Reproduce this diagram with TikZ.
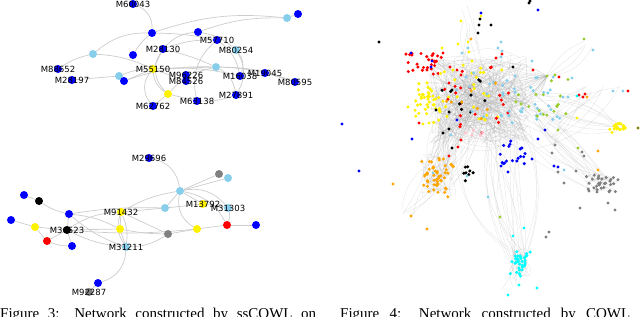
\documentclass[tikz,border=0pt]{standalone}
\usepackage{fontspec}
\setmainfont{Liberation Serif}
\newfontfamily\lblfont{DejaVu Sans}
\usetikzlibrary{backgrounds}
\definecolor{skyb}{HTML}{87CEEB}
\definecolor{ygreen}{HTML}{9ACD32}
\definecolor{orng}{HTML}{FFA500}
\definecolor{gry}{HTML}{808080}
\definecolor{olv}{HTML}{808000}
\definecolor{pnk}{HTML}{FFC0CB}
\definecolor{cyn}{HTML}{00FFFF}
\newcommand\rdots[6]{%
  \foreach \k in {1,...,#6}{%
    \pgfmathsetmacro\qpx{#2+#4*(rand+rand)/2}%
    \pgfmathsetmacro\qpy{#3+#5*(rand+rand)/2}%
    \fill[#1] (\qpx,\qpy) circle[radius=1.7];}}
\newcommand\udots[6]{%
  \foreach \k in {1,...,#6}{%
    \pgfmathsetmacro\qpx{#2+#4*rand}%
    \pgfmathsetmacro\qpy{#3+#5*rand}%
    \fill[#1] (\qpx,\qpy) circle[radius=1.7];}}
\newcommand\redges[9]{%
  \foreach \k in {1,...,#9}{%
    \pgfmathsetmacro\qax{#1+#3*rand}\pgfmathsetmacro\qay{#2+#4*rand}%
    \pgfmathsetmacro\qbx{#5+#7*rand}\pgfmathsetmacro\qby{#6+#8*rand}%
    \pgfmathsetmacro\qbb{35*rand}%
    \draw[redge] (\qax,\qay) to[bend left=\qbb] (\qbx,\qby);}}
\newcommand\pts[2]{\foreach \a/\b in {#2}{\fill[#1] (\a,\b) circle[radius=1.7];}}
\begin{document}
\begin{tikzpicture}[x=1pt,y=-1pt,
  gn/.style={circle,inner sep=0pt,minimum size=8pt},
  lbl/.style={font=\lblfont\fontsize{8.5}{9}\selectfont,inner sep=0pt},
  ge/.style={draw=black!20,line width=0.7pt},
  redge/.style={draw=black!35,line width=0.2pt,opacity=0.4},
  captext/.style={anchor=base west,inner sep=0pt,font=\fontsize{15}{18}\selectfont}]
\useasboundingbox (0,0) rectangle (640,316);
\clip (0,0) rectangle (640,316);
\pgfmathsetseed{4242}

% ---------------- top-left network ----------------
\node[gn,fill=blue] (m60043) at (133,4) {};
\node[gn,fill=blue] (b1) at (152,33) {};
\node[gn,fill=blue] (b2) at (198,32) {};
\node[gn,fill=skyb] (lb0) at (287,18) {};
\node[gn,fill=blue] (b0) at (298,14) {};
\node[gn,fill=blue] (m28130) at (163,49) {};
\node[gn,fill=blue] (b4) at (133,55) {};
\node[gn,fill=skyb] (lb1) at (93,54) {};
\node[gn,fill=blue] (m57710) at (217,40) {};
\node[gn,fill=skyb] (m80254) at (236,50) {};
\node[gn,fill=blue] (m88652) at (58,69) {};
\node[gn,fill=blue] (m28197) at (72,80) {};
\node[gn,fill=skyb] (lb3) at (119,76) {};
\node[gn,fill=blue] (b3) at (124,81) {};
\node[gn,fill=yellow] (m55150) at (153,69) {};
\node[gn,fill=skyb] (lb2) at (216,67) {};
\node[gn,fill=blue] (m96226) at (186,75) {};
\node[gn,fill=blue] (m84526) at (186,81) {};
\node[gn,fill=blue] (m16038) at (240,76) {};
\node[gn,fill=blue] (m19045) at (265,73) {};
\node[gn,fill=blue] (m80595) at (295,82) {};
\node[gn,fill=yellow] (y2) at (168,94) {};
\node[gn,fill=blue] (m63138) at (197,101) {};
\node[gn,fill=blue] (m27891) at (236,95) {};
\node[gn,fill=blue] (m62762) at (153,106) {};

% ---------------- bottom-left network ----------------
\node[gn,fill=blue] (m29696) at (149,158) {};
\node[gn,fill=gry] (g1) at (219,174) {};
\node[gn,fill=skyb] (lb4) at (228,178) {};
\node[gn,fill=skyb] (lb5) at (180,191) {};
\node[gn,fill=blue] (b5) at (24,195) {};
\node[gn,fill=black] (k1) at (39,201) {};
\node[gn,fill=blue] (b6) at (69,214) {};
\node[gn,fill=skyb] (lb6) at (165,208) {};
\node[gn,fill=yellow] (m13792) at (203,204) {};
\node[gn,fill=skyb] (m31303) at (228,208) {};
\node[gn,fill=yellow] (m91432) at (121,212) {};
\node[gn,fill=blue] (b7) at (11,220) {};
\node[gn,fill=yellow] (y3) at (35,227) {};
\node[gn,fill=black] (m36523) at (67,230) {};
\node[gn,fill=yellow] (y4) at (120,229) {};
\node[gn,fill=red] (r1) at (227,225) {};
\node[gn,fill=blue] (b8) at (256,225) {};
\node[gn,fill=yellow] (y5) at (197,229) {};
\node[gn,fill=gry] (g2) at (168,234) {};
\node[gn,fill=red] (r2) at (47,241) {};
\node[gn,fill=blue] (b9) at (72,246) {};
\node[gn,fill=skyb] (m31211) at (126,247) {};
\node[gn,fill=blue] (b10) at (98,283) {};
\node[gn,fill=gry] (m92287) at (89,292) {};

% labels
\foreach \n/\t in {m60043/M60043,m28130/M28130,m57710/M57710,m80254/M80254,
  m88652/M88652,m28197/M28197,m55150/M55150,m96226/M96226,m84526/M84526,
  m16038/M16038,m19045/M19045,m80595/M80595,m63138/M63138,m27891/M27891,
  m62762/M62762,m29696/M29696,m13792/M13792,m31303/M31303,m91432/M91432,
  m36523/M36523,m31211/M31211,m92287/M92287}
  {\node[lbl] (l\n) at (\n) {\t};}

\begin{pgfonlayer}{background}
% top edges
\draw[ge] (m60043) to[bend left=35] (b1);
\draw[ge] (b1) to[bend right=20] (lb1);
\draw[ge] (lb1) to[bend right=10] (m88652);
\draw[ge] (b1) to[bend left=5] (m57710);
\draw[ge] (b2) to[bend left=10] (lb0);
\draw[ge] (b1) to[bend left=12] (lb0);
\draw[ge] (lb0) -- (b0);
\draw[ge] (m28130) to[bend left=5] (lb2);
\draw[ge] (m28130) -- (m55150);
\draw[ge] (lb3) -- (m28197);
\draw[ge] (lb3) to[bend left=10] (m55150);
\draw[ge] (m55150) -- (lb2);
\draw[ge] (lb1) to[bend left=10] (m55150);
\draw[ge] (lb2) to[bend left=5] (m19045);
\draw[ge] (lb2) to[bend left=10] (m80595);
\draw[ge] (lb2) -- (m96226);
\draw[ge] (m55150) to[bend right=25] (y2);
\draw[ge] (y2) -- (m63138);
\draw[ge] (y2) -- (m62762);
\draw[ge] (m27891) to[bend left=10] (m63138);
\draw[ge] (m80254) to[bend left=30] (m27891);
\draw[ge] (m57710) to[bend left=20] (m16038);
\draw[ge] (b3) -- (m55150);
\draw[ge] (m16038) to[bend right=30] (m80254);
\draw[ge] (m55150) -- (m84526);
\draw[ge] (b2) to[bend left=15] (m80254);
\draw[ge] (m28130) to[bend left=10] (m57710);
\draw[ge] (y2) -- (m96226);
\draw[ge] (m19045) -- (m80595);
\draw[ge] (b1) to[bend right=10] (b4);
\draw[ge] (m62762) to[bend left=40] (m55150);
\draw[ge] (b3) to[bend left=10] (lb2);
\draw[ge] (m28130) to[bend right=40] (y2);
\draw[ge] (m57710) to[bend right=30] (m63138);
\draw[ge] (b2) to[bend right=20] (m28130);
\draw[ge] (lb2) to[bend left=25] (m27891);
\draw[ge] (m55150) to[bend left=8] (m16038);
% bottom edges
\draw[ge] (m29696) to[bend left=35] (lb5);
\draw[ge] (lb5) -- (g1);
\draw[ge] (lb5) -- (lb4);
\draw[ge] (lb5) -- (lb6);
\draw[ge] (lb5) -- (m13792);
\draw[ge] (lb5) to[bend right=35] (y5);
\draw[ge] (lb5) to[bend left=25] (r1);
\draw[ge] (lb5) to[bend right=10] (m91432);
\draw[ge] (b5) -- (k1);
\draw[ge] (k1) to[bend right=10] (b6);
\draw[ge] (b6) to[bend left=5] (lb6);
\draw[ge] (b6) -- (m36523);
\draw[ge] (b6) to[bend left=10] (y4);
\draw[ge] (b6) to[bend right=10] (m31211);
\draw[ge] (b7) -- (y3);
\draw[ge] (y3) -- (r2);
\draw[ge] (r2) to[bend right=10] (b9);
\draw[ge] (y3) -- (m36523);
\draw[ge] (r2) -- (m36523);
\draw[ge] (m36523) -- (y4);
\draw[ge] (m36523) to[bend left=15] (m91432);
\draw[ge] (m36523) to[bend right=10] (m31211);
\draw[ge] (b9) -- (m36523);
\draw[ge] (y4) to[bend right=5] (g2);
\draw[ge] (g2) -- (y5);
\draw[ge] (y5) -- (r1);
\draw[ge] (r1) -- (b8);
\draw[ge] (m31303) to[bend left=20] (r1);
\draw[ge] (m13792) -- (m31303);
\draw[ge] (lb6) -- (m13792);
\draw[ge] (m91432) to[bend right=25] (m31211);
\draw[ge] (m91432) to[bend left=15] (m31211);
\draw[ge] (m91432) -- (g2);
\draw[ge] (y4) -- (m31211);
\draw[ge] (g2) to[bend left=15] (m31211);
\draw[ge] (m31211) to[bend left=35] (b10);
\draw[ge] (b10) -- (m92287);
\draw[ge] (m91432) -- (lb6);
\draw[ge] (m91432) -- (y4);
\draw[ge] (lb5) to[bend left=30] (m31303);
\draw[ge] (m36523) to[bend right=5] (y5);
\end{pgfonlayer}

% ---------------- right network: edges ----------------
\redges{478}{100}{52}{45}{478}{100}{52}{45}{340}
\redges{490}{120}{40}{30}{520}{262}{8}{12}{22}
\redges{500}{100}{40}{30}{600}{183}{16}{8}{16}
\redges{530}{100}{25}{20}{616}{128}{10}{4}{10}
\redges{460}{100}{30}{30}{438}{175}{15}{20}{40}
\redges{438}{175}{18}{22}{438}{175}{18}{22}{45}
\redges{520}{262}{10}{14}{520}{262}{10}{14}{30}
\redges{600}{183}{18}{10}{600}{183}{18}{10}{20}
\redges{547}{76}{0}{0}{495}{90}{45}{30}{35}
\redges{547}{76}{0}{0}{588}{45}{6}{6}{4}
\redges{470}{60}{15}{15}{465}{20}{10}{15}{8}
\redges{540}{130}{20}{20}{600}{90}{25}{5}{10}
\redges{520}{262}{10}{14}{515}{285}{15}{10}{6}
\redges{440}{180}{20}{20}{405}{215}{10}{10}{6}

% ---------------- right network: dots ----------------
\udots{red}{424}{64}{19}{11}{30}
\rdots{yellow}{428}{102}{18}{26}{40}
\udots{yellow}{470}{95}{32}{30}{28}
\udots{red}{478}{100}{36}{34}{22}
\rdots{black}{465}{100}{25}{30}{12}
\udots{skyb}{485}{95}{30}{30}{12}
\udots{orng}{475}{100}{30}{25}{8}
\rdots{pnk}{475}{135}{12}{5}{5}
\udots{skyb}{530}{98}{30}{22}{30}
\udots{ygreen}{540}{100}{28}{22}{18}
\rdots{yellow}{616}{128}{13}{6}{20}
\udots{blue}{512}{148}{14}{16}{18}
\rdots{orng}{438}{175}{20}{26}{50}
\rdots{black}{468}{172}{8}{12}{8}
\rdots{gry}{600}{183}{20}{11}{30}
\rdots{cyn}{520}{262}{11}{16}{35}

\pts{black}{379/42,529/3,530/1,491/25,478/33,479/25,480/19,513/67,443/133,449/129,452/148,436/110}
\pts{blue}{538/10,481/13,411/53,432/61,431/67,342/124,412/139,359/171,538/139,545/130,532/159,501/166,508/172,554/166,558/167,457/120}
\pts{yellow}{461/21,442/48,458/44,469/52,468/42,481/16,472/61,408/107,423/124,429/123,577/118}
\pts{orng}{471/39,393/184,598/151,598/170,587/97,411/216,427/229}
\pts{skyb}{468/48,462/53,593/50,501/42,498/48,502/51,501/57,532/61,572/78,613/91,623/91,563/97,568/97,564/170,488/197,433/173,467/176,451/135}
\pts{red}{443/53,450/67,457/70,461/75,449/83,502/54,496/58,533/70,559/77,628/91,579/95,583/97,585/94,419/123,461/140,458/147,449/156}
\pts{ygreen}{584/39,547/76,555/75,558/130,578/148,500/217}
\pts{gry}{555/145,552/153,582/152,584/156,558/172,564/183,576/171,580/208,615/210,608/203,549/232,546/237,589/191,597/192}
\pts{cyn}{577/96,524/228,513/236,519/285,537/288,508/295}
\pts{olv}{638/128}

% ---------------- captions (cut at the bottom) ----------------
\node[captext] (cap3) at (0,318) {\makebox[316pt][s]{Figure 3: Network constructed by ssCOWL on}};
\node[captext] (cap4) at (340,318) {\makebox[290pt][s]{Figure 4: Network constructed by COWL}};
\end{tikzpicture}
\end{document}
